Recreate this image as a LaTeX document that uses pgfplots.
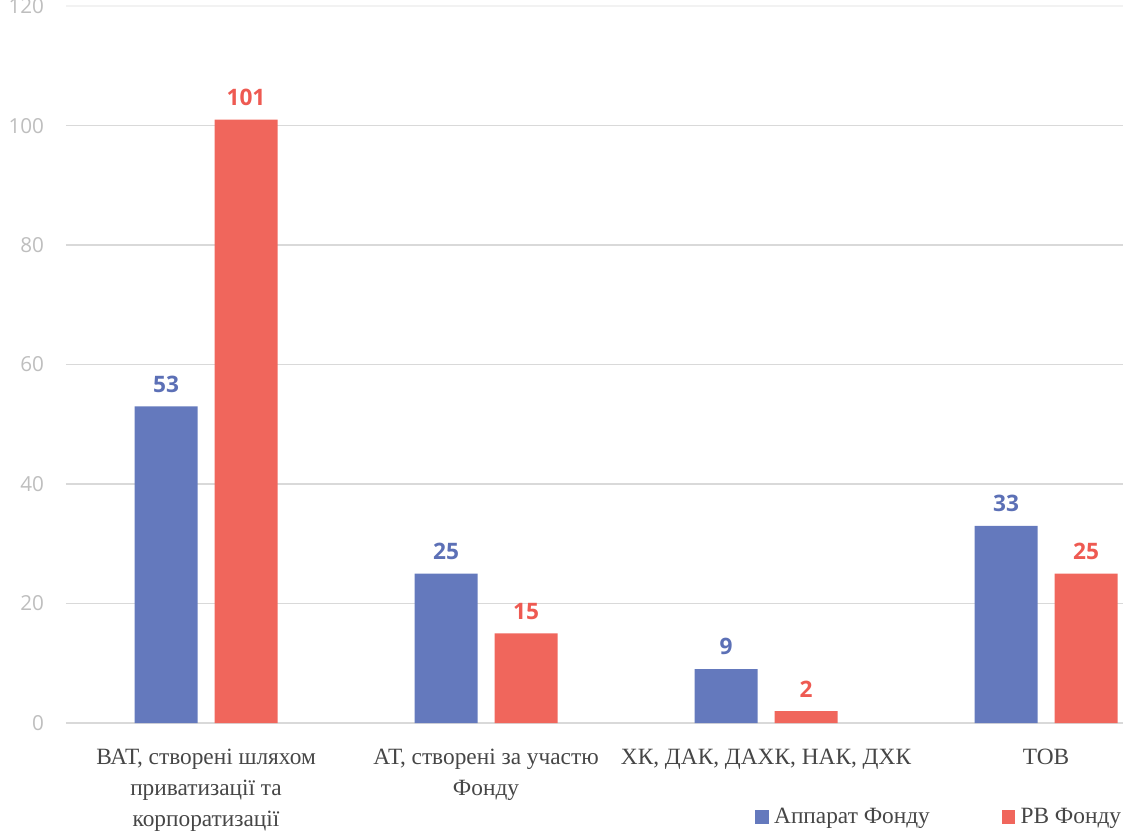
\documentclass[border=0pt]{standalone}
\usepackage{fontspec}
\setmainfont{Liberation Serif}
\newfontfamily\numfont{Open Sans}
\usepackage{pgfplots}
\pgfplotsset{compat=1.18}
\definecolor{cblue}{RGB}{100,121,189}
\definecolor{cred}{RGB}{240,102,92}
\definecolor{cbluelab}{RGB}{92,112,182}
\definecolor{credlab}{RGB}{238,90,82}
\definecolor{ctick}{RGB}{190,190,190}
\definecolor{ctext}{RGB}{70,70,70}
\definecolor{cgrid}{RGB}{217,217,217}
\begin{document}
\begin{tikzpicture}
\begin{axis}[
  at={(0,0)}, anchor=south west,
  x=210pt, y=4.48pt,
  xmin=-0.5, xmax=3.3, ymin=0, ymax=120,
  ybar=12.75pt, bar width=47.25pt,
  ytick={0,20,...,100}, xtick={0,1,2,3},
  extra y ticks={120}, extra y tick style={grid style={cgrid!35, line width=1.2pt}},
  xticklabels={{ВАТ, створені шляхом\\приватизації та\\корпоратизації},{АТ, створені за участю\\Фонду},{ХК, ДАК, ДАХК, НАК, ДХК},{ТОВ}},
  axis line style={draw=none}, major tick length=0pt,
  ymajorgrids, grid style={cgrid, line width=1.2pt},
  /pgf/number format/assume math mode=true,
  yticklabel style={font=\numfont\fontsize{15.5}{18}\selectfont, color=ctick, xshift=-13pt},
  xticklabel style={font=\fontsize{17.5}{23.25}\selectfont, color=ctext, align=center, yshift=-16pt},
  nodes near coords,
  legend columns=2,
  legend style={at={(0.644,-0.131)}, anchor=west, draw=none, fill=none,
    font=\fontsize{17.5}{18}\selectfont, text=ctext,
    /tikz/every even column/.append style={column sep=52pt}},
  legend image code/.code={\fill[#1] (0pt,-5pt) rectangle (10pt,5pt);},
  clip=false,
]
\addplot[fill=cblue, draw=none, every node near coord/.append style={font=\numfont\bfseries\fontsize{17}{20}\selectfont, color=cbluelab, yshift=7pt}] coordinates {(0,53) (1,25) (2,9) (3,33)};
\addplot[fill=cred, draw=none, every node near coord/.append style={font=\numfont\bfseries\fontsize{17}{20}\selectfont, color=credlab, yshift=7pt}] coordinates {(0,101) (1,15) (2,2) (3,25)};
\legend{\hspace{2pt}Аппарат Фонду, \hspace{2pt}РВ Фонду}
\end{axis}
\pgfresetboundingbox
\path[use as bounding box] (-49.5pt,-81.75pt) rectangle (792.75pt,542.25pt);
\end{tikzpicture}
\end{document}
